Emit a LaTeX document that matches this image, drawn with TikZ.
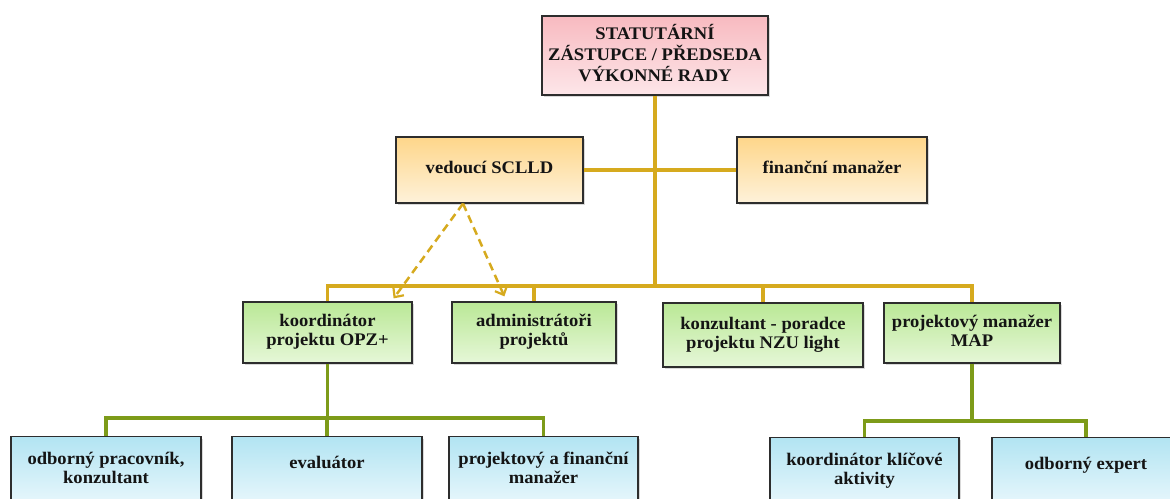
\documentclass[tikz,border=0pt]{standalone}
\usepackage{fontspec}
\setmainfont{Liberation Serif}[FakeStretch=1.05]
\usetikzlibrary{arrows.meta,shadows,calc}
\definecolor{goldc}{RGB}{214,170,30}
\definecolor{olivec}{RGB}{125,155,25}
\definecolor{edgec}{RGB}{45,45,45}
\definecolor{txtc}{RGB}{20,20,20}
\definecolor{pinkT}{RGB}{248,186,192}
\definecolor{pinkB}{RGB}{253,230,233}
\definecolor{orT}{RGB}{254,214,138}
\definecolor{orB}{RGB}{254,242,218}
\definecolor{grT}{RGB}{186,232,150}
\definecolor{grB}{RGB}{230,247,216}
\definecolor{blT}{RGB}{178,228,242}
\definecolor{blB}{RGB}{232,247,252}
\newcommand\uptext[2]{\raisebox{#1}{\begin{tabular}{@{}c@{}}#2\end{tabular}}}
\tikzset{
  box/.style={draw=edgec, line width=1.2pt, align=center, text=txtc,
    font=\bfseries\fontsize{17.7}{19}\selectfont, inner sep=2pt,
    drop shadow={shadow xshift=1.5pt, shadow yshift=-2pt, opacity=0.3}},
  pinkbox/.style={box, top color=pinkT, bottom color=pinkB},
  orbox/.style={box, top color=orT, bottom color=orB},
  grbox/.style={box, top color=grT, bottom color=grB},
  blbox/.style={box, top color=blT, bottom color=blB, anchor=north, minimum height=68pt},
  goldl/.style={draw=goldc, line width=3.6pt},
  olivel/.style={draw=olivec, line width=3.6pt},
  dashl/.style={draw=goldc, line width=2.5pt, dash pattern=on 8pt off 5pt,
    -{Straight Barb[length=7pt,width=13pt,line width=2.2pt]}},
}
\begin{document}
\begin{tikzpicture}[x=1pt,y=-1pt]
\useasboundingbox (0,0) rectangle (1170,498);
\clip (0,0) rectangle (1170,498);

% level 0
\node[pinkbox, minimum width=226pt, minimum height=79pt] (top) at (655,55.5)
  {\uptext{3.5pt}{STATUTÁRNÍ\\ZÁSTUPCE / PŘEDSEDA\\VÝKONNÉ RADY}};
% level 1
\node[orbox, minimum width=187pt, minimum height=66pt] (ved) at (489.5,170) {\uptext{2pt}{vedoucí SCLLD}};
\node[orbox, minimum width=190pt, minimum height=66pt] (fin) at (832,170) {\uptext{2pt}{finanční manažer}};
% level 2
\node[grbox, minimum width=169pt, minimum height=61pt] (kopz) at (327.5,332.5) {\uptext{1pt}{koordinátor\\projektu OPZ+}};
\node[grbox, minimum width=164pt, minimum height=61pt] (adm) at (534,332.5) {\uptext{1pt}{administrátoři\\projektů}};
\node[grbox, minimum width=200pt, minimum height=64pt] (kon) at (763,335) {\uptext{2.5pt}{konzultant - poradce\\projektu NZU light}};
\node[grbox, minimum width=176pt, minimum height=60pt] (map) at (972,333) {\uptext{1pt}{projektový manažer\\MAP}};
% level 3
\node[blbox, minimum width=190pt] (odb) at (106,436) {\uptext{16pt}{odborný pracovník,\\konzultant}};
\node[blbox, minimum width=190pt] (eva) at (327,436) {\uptext{16pt}{evaluátor}};
\node[blbox, minimum width=189pt] (proj) at (543.5,436) {\uptext{16pt}{projektový a finanční\\manažer}};
\node[blbox, minimum width=189pt] (kk) at (864.5,437) {\uptext{16pt}{koordinátor klíčové\\aktivity}};
\node[blbox, minimum width=188pt] (oe) at (1086,437) {\uptext{16pt}{odborný expert}};

% helper levels
\coordinate (barA) at (0,286);
\coordinate (barB) at (0,418);
\coordinate (barC) at (0,421);

% gold connectors
\draw[goldl] (top.south) -- (top.south |- barA);
\draw[goldl] (ved.east) -- (fin.west);
\draw[goldl] (kopz.north) -- (kopz.north |- barA) -- (map.north |- barA) -- (map.north);
\draw[goldl] (adm.north) -- (adm.north |- barA);
\draw[goldl] (kon.north) -- (kon.north |- barA);

% olive connectors
\draw[olivel] (kopz.south) -- (kopz.south |- barB);
\draw[olivel] (odb.north) -- (odb.north |- barB) -- (proj.north |- barB) -- (proj.north);
\draw[olivel] (eva.north) -- (eva.north |- barB);
\draw[olivel] (map.south) -- (map.south |- barC);
\draw[olivel] (kk.north) -- (kk.north |- barC) -- (oe.north |- barC) -- (oe.north);

% dashed arrows
\coordinate (dsrc) at ($(ved.south)+(-26.5,0)$);
\coordinate (tipk) at ($(kopz.north east)+(-19,-3)$);
\coordinate (tipa) at ($(adm.north west)+(53,-5)$);
\draw[dashl] (dsrc) -- (tipk);
\draw[dashl] (dsrc) -- (tipa);
\end{tikzpicture}
\end{document}
